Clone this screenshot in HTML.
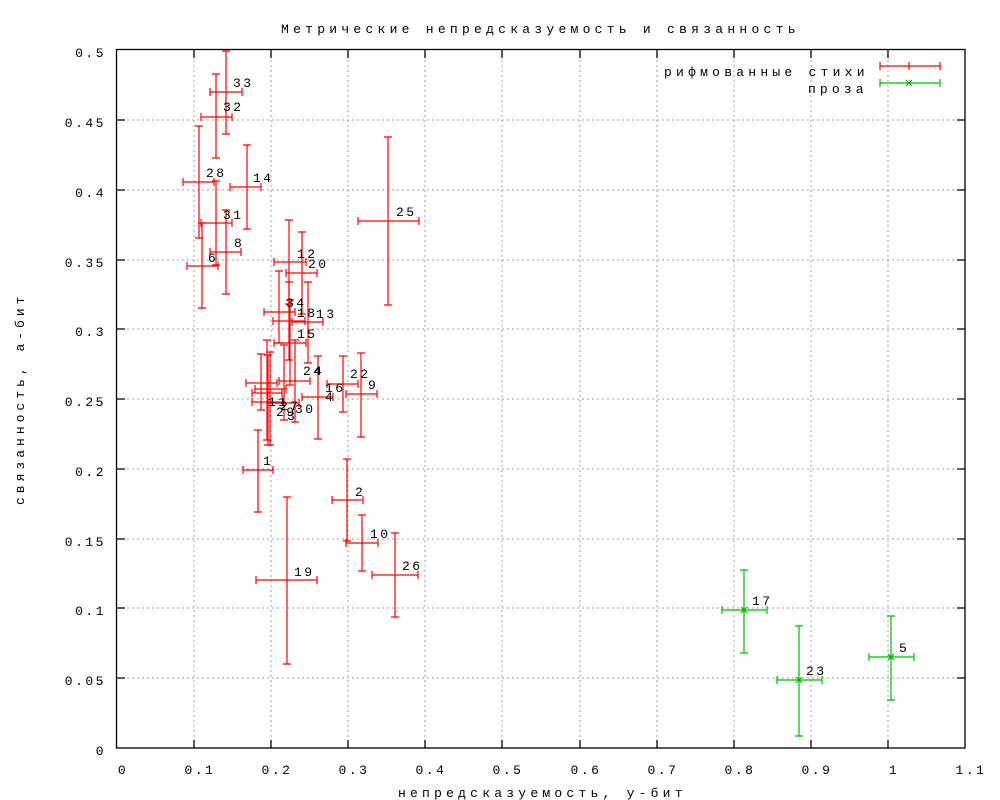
<!DOCTYPE html>
<html><head><meta charset="utf-8"><style>
html,body{margin:0;padding:0;background:#fff;}
svg{display:block;}
text{font-family:"Liberation Mono","DejaVu Sans Mono",monospace;font-size:13px;letter-spacing:2.5px;fill:#000;}
.r path{stroke:#f00;stroke-width:1.2;fill:none;}
.g path{stroke:#0b0;stroke-width:1.2;fill:none;}
</style></head><body>
<svg width="1000" height="800" viewBox="0 0 1000 800" xmlns="http://www.w3.org/2000/svg">
<rect width="1000" height="800" fill="#fff"/>
<g stroke="#a0a0a0" stroke-width="1" stroke-dasharray="2,3">
<line x1="194" y1="50" x2="194" y2="748"/><line x1="271" y1="50" x2="271" y2="748"/><line x1="348" y1="50" x2="348" y2="748"/><line x1="425" y1="50" x2="425" y2="748"/><line x1="502" y1="50" x2="502" y2="748"/><line x1="580" y1="50" x2="580" y2="748"/><line x1="657" y1="50" x2="657" y2="748"/><line x1="734" y1="50" x2="734" y2="748"/><line x1="811" y1="50" x2="811" y2="748"/><line x1="888" y1="50" x2="888" y2="748"/>
<line x1="117" y1="678" x2="965" y2="678"/><line x1="117" y1="608" x2="965" y2="608"/><line x1="117" y1="539" x2="965" y2="539"/><line x1="117" y1="469" x2="965" y2="469"/><line x1="117" y1="399" x2="965" y2="399"/><line x1="117" y1="329" x2="965" y2="329"/><line x1="117" y1="260" x2="965" y2="260"/><line x1="117" y1="190" x2="965" y2="190"/><line x1="117" y1="120" x2="965" y2="120"/>
</g>
<g stroke="#000" stroke-width="1.3">
<rect x="116.5" y="49.5" width="848.5" height="698.5" fill="none"/>
<path d="M194 748v-8M271 748v-8M348 748v-8M425 748v-8M502 748v-8M580 748v-8M657 748v-8M734 748v-8M811 748v-8M888 748v-8M194 50v8M271 50v8M348 50v8M425 50v8M502 50v8M580 50v8M657 50v8M734 50v8M811 50v8M888 50v8M117 678h8M117 608h8M117 539h8M117 469h8M117 399h8M117 329h8M117 260h8M117 190h8M117 120h8M965 678h-8M965 608h-8M965 539h-8M965 469h-8M965 399h-8M965 329h-8M965 260h-8M965 190h-8M965 120h-8"/>
</g>
<g text-anchor="middle">
<text x="123" y="774">0</text><text x="200" y="774">0.1</text><text x="277" y="774">0.2</text><text x="354" y="774">0.3</text><text x="431" y="774">0.4</text><text x="508" y="774">0.5</text><text x="586" y="774">0.6</text><text x="663" y="774">0.7</text><text x="740" y="774">0.8</text><text x="817" y="774">0.9</text><text x="894" y="774">1</text><text x="971" y="774">1.1</text>
</g>
<g text-anchor="end">
<text x="106" y="755">0</text><text x="106" y="685">0.05</text><text x="106" y="615">0.1</text><text x="106" y="546">0.15</text><text x="106" y="476">0.2</text><text x="106" y="406">0.25</text><text x="106" y="336">0.3</text><text x="106" y="267">0.35</text><text x="106" y="197">0.4</text><text x="106" y="127">0.45</text><text x="106" y="57">0.5</text>
</g>
<text x="281" y="33" textLength="517" lengthAdjust="spacing">Метрические непредсказуемость и связанность</text>
<text x="398" y="797" textLength="287" lengthAdjust="spacing">непредсказуемость, у-бит</text>
<text transform="translate(24,505) rotate(-90)" textLength="211" lengthAdjust="spacing">связанность, а-бит</text>
<text x="664" y="76" textLength="203" lengthAdjust="spacing">рифмованные стихи</text>
<text x="808" y="93" textLength="58" lengthAdjust="spacing">проза</text>
<g class="r"><path d="M880 66h60M880 62v8M940 62v8M909 62v8"/></g>
<g class="g"><path d="M880 83h60M880 79v8M940 79v8M906 80l6 6M912 80l-6 6"/></g>

<g class="r">
<path d="M210 92h32M210 88v8M242 88v8M226 51v83M222 51h8M222 134h8"/>
<path d="M201 117h31M201 113v8M232 113v8M216 74v84M212 74h8M212 158h8"/>
<path d="M183 182h31M183 178v8M214 178v8M199 126v112M195 126h8M195 238h8"/>
<path d="M230 187h31M230 183v8M261 183v8M247 145v84M243 145h8M243 229h8"/>
<path d="M201 223h31M201 219v8M232 219v8M216 181v84M212 181h8M212 265h8"/>
<path d="M210 252h31M210 248v8M241 248v8M226 210v84M222 210h8M222 294h8"/>
<path d="M187 266h31M187 262v8M218 262v8M202 223v85M198 223h8M198 308h8"/>
<path d="M358 221h61M358 217v8M419 217v8M388 137v168M384 137h8M384 305h8"/>
<path d="M274 262h32M274 258v8M306 258v8M289 220v84M285 220h8M285 304h8"/>
<path d="M286 273h31M286 269v8M317 269v8M302 232v82M298 232h8M298 314h8"/>
<path d="M264 312h31M264 308v8M295 308v8M279 271v72M275 271h8M275 343h8"/>
<path d="M273 321h32M273 317v8M305 317v8M289 282v78M285 282h8M285 360h8"/>
<path d="M292 322h31M292 318v8M323 318v8M308 282v81M304 282h8M304 363h8"/>
<path d="M274 343h32M274 339v8M306 339v8M290 300v85M286 300h8M286 385h8"/>
<path d="M279 381h31M279 377v8M310 377v8M295 340v82M291 340h8M291 422h8"/>
<path d="M302 397h31M302 393v8M333 393v8M318 356v83M314 356h8M314 439h8"/>
<path d="M327 384h31M327 380v8M358 380v8M343 356v56M339 356h8M339 412h8"/>
<path d="M346 394h31M346 390v8M377 390v8M361 353v84M357 353h8M357 437h8"/>
<path d="M246 383h31M246 379v8M277 379v8M261 354v56M257 354h8M257 410h8"/>
<path d="M255 389h31M255 385v8M286 385v8M270 352v93M266 352h8M266 445h8"/>
<path d="M252 393h30M252 389v8M282 389v8M267 340v100M263 340h8M263 440h8"/>
<path d="M252 402h31M252 398v8M283 398v8M268 355v90M264 355h8M264 445h8"/>
<path d="M268 403h31M268 399v8M299 399v8M284 345v75M280 345h8M280 420h8"/>
<path d="M243 470h30M243 466v8M273 466v8M258 430v82M254 430h8M254 512h8"/>
<path d="M332 500h31M332 496v8M363 496v8M347 459v82M343 459h8M343 541h8"/>
<path d="M346 543h32M346 539v8M378 539v8M362 515v56M358 515h8M358 571h8"/>
<path d="M372 575h46M372 571v8M418 571v8M395 533v84M391 533h8M391 617h8"/>
<path d="M256 580h61M256 576v8M317 576v8M287 497v167M283 497h8M283 664h8"/>
</g>
<g class="g">
<path d="M722 610h45M722 606v8M767 606v8M744 570v83M740 570h8M740 653h8M741 607l6 6M747 607l-6 6"/>
<path d="M777 680h45M777 676v8M822 676v8M799 626v110M795 626h8M795 736h8M796 677l6 6M802 677l-6 6"/>
<path d="M869 657h45M869 653v8M914 653v8M891 616v84M887 616h8M887 700h8M888 654l6 6M894 654l-6 6"/>
</g>
<g>
<text x="233" y="87">33</text><text x="223" y="111">32</text><text x="206" y="177">28</text><text x="253" y="182">14</text><text x="223" y="219">31</text><text x="234" y="247">8</text><text x="208" y="262">6</text><text x="396" y="216">25</text><text x="297" y="258">12</text><text x="308" y="268">20</text><text x="286" y="307">34</text><text x="297" y="317">18</text><text x="316" y="318">13</text><text x="297" y="338">15</text><text x="303" y="375">24</text><text x="314" y="375">4</text><text x="350" y="378">22</text><text x="368" y="389">9</text><text x="325" y="392">16</text><text x="325" y="401">4</text><text x="268" y="406">11</text><text x="280" y="410">27</text><text x="276" y="416">29</text><text x="287" y="420">3</text><text x="295" y="413">30</text><text x="263" y="465">1</text><text x="355" y="496">2</text><text x="370" y="538">10</text><text x="402" y="570">26</text><text x="294" y="576">19</text><text x="752" y="605">17</text><text x="806" y="675">23</text><text x="899" y="652">5</text>
</g>
</svg>
</body></html>
